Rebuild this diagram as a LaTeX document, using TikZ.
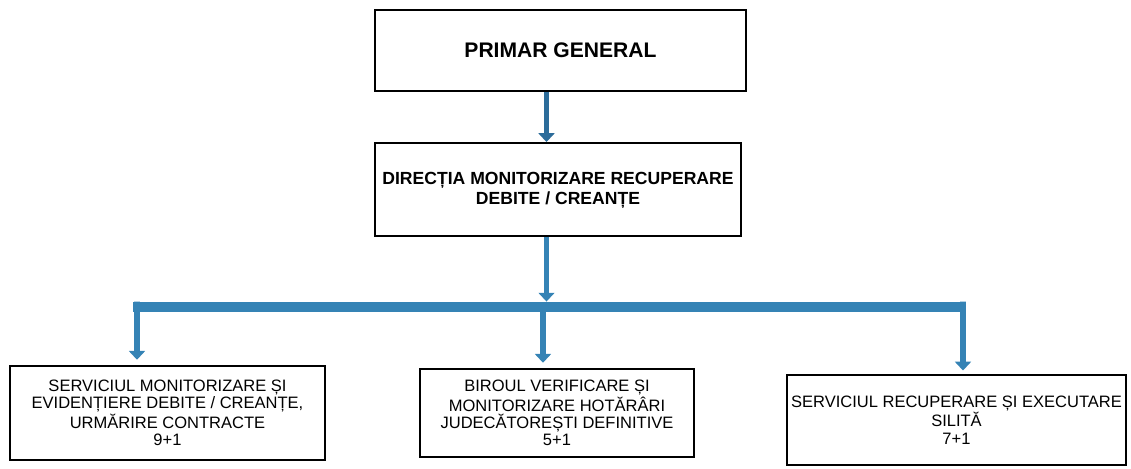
\documentclass[tikz,border=0pt]{standalone}
\usepackage{fontspec}
\setmainfont{Liberation Sans}
\usepackage{xcolor}
\usetikzlibrary{arrows.meta, positioning}
\definecolor{linkblue}{HTML}{3583B5}
\definecolor{topblue}{HTML}{2C6C9A}

\begin{document}
\begin{tikzpicture}[
        box/.style={rectangle, draw, line width=1.1pt, align=center, inner sep=2pt},
        headbox/.style={box, font=\bfseries\fontsize{12}{14}\selectfont},
        dirbox/.style={box, font=\bfseries\fontsize{10}{11.5}\selectfont},
        unitbox/.style={box, font=\fontsize{9.4}{9.8}\selectfont},
        arrow/.style={-{Triangle[width=9pt,length=5pt]}, line width=3.4pt, draw=linkblue},
        bar/.style={line width=6.2pt, draw=linkblue}
    ]
        \useasboundingbox (0,0) rectangle (22.62,-9.38);

        \node[headbox, minimum width=7.42cm, minimum height=1.62cm] (primar) at (11.21,-1.01) {PRIMAR GENERAL};
        \node[dirbox, minimum width=7.32cm, minimum height=1.86cm] (directia) at (11.16,-3.79) {\\[-4pt]DIRECȚIA MONITORIZARE RECUPERARE\\DEBITE / CREANȚE};
        \node[unitbox, minimum width=6.3cm, minimum height=1.88cm] (monitorizare) at (3.35,-8.26) {SERVICIUL MONITORIZARE ȘI\\EVIDENȚIERE DEBITE / CREANȚE,\\URMĂRIRE CONTRACTE\\9+1};
        \node[unitbox, minimum width=5.48cm, minimum height=1.76cm] (biroul) at (11.14,-8.26) {BIROUL VERIFICARE ȘI\\MONITORIZARE HOTĂRÂRI\\JUDECĂTOREȘTI DEFINITIVE\\5+1};
        \node[unitbox, minimum width=6.78cm, minimum height=1.8cm] (recuperare) at (19.13,-8.4) {SERVICIUL RECUPERARE ȘI EXECUTARE\\SILITĂ\\7+1};

        \coordinate (trunk) at (10.93,-6.14);
        \coordinate (leftend) at (2.66,-6.14);
        \coordinate (rightend) at (19.32,-6.14);

        \draw[arrow, draw=topblue] (primar.south -| trunk) -- (directia.north -| trunk);
        \draw[arrow] (directia.south -| trunk) -- ([yshift=3.1pt]trunk);
        \draw[bar] (leftend) -- (rightend);
        \draw[arrow] ([xshift=0.08cm, yshift=3.1pt]leftend) -- ([yshift=3pt]monitorizare.north -| 2.74,0);
        \draw[arrow] ([xshift=-0.07cm]trunk) -- ([yshift=3pt]biroul.north -| 10.86,0);
        \draw[arrow] ([xshift=-0.06cm, yshift=3.1pt]rightend) -- ([yshift=2pt]recuperare.north -| 19.26,0);
    \end{tikzpicture}
\end{document}
